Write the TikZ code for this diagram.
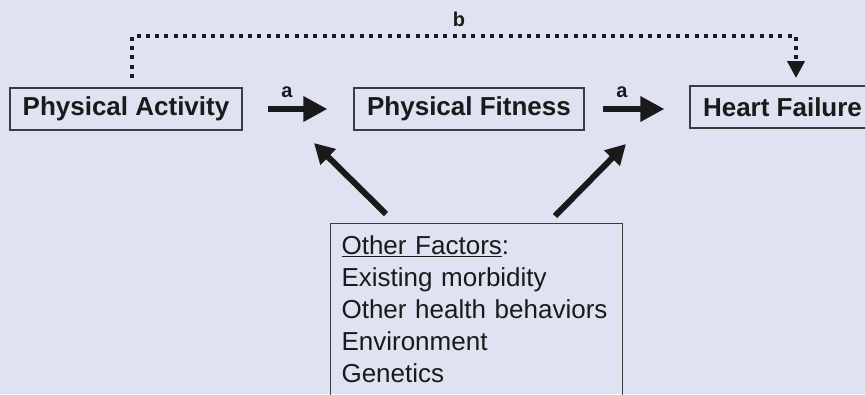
\documentclass[tikz,border=0pt]{standalone}
\usepackage{fontspec}
\setmainfont{Liberation Sans}
\usetikzlibrary{arrows.meta}
\definecolor{bgcol}{HTML}{DFE3F1}
\definecolor{ink}{HTML}{1A1A1A}
\begin{document}
\begin{tikzpicture}[x=1pt,y=-1pt,
  box/.style={draw=ink!85, line width=1.1pt, minimum height=42pt, inner sep=0pt,
    font=\bfseries\fontsize{26}{30}\selectfont, text=ink},
  lab/.style={font=\bfseries\fontsize{20}{22}\selectfont, text=ink, inner sep=0pt},
  bigarrow/.style={draw=ink, line width=6pt, -{Triangle[length=24pt,width=24pt]}},
  diagarrow/.style={draw=ink, line width=6pt, -{Triangle[length=20pt,width=21pt]}},
  dotarrow/.style={draw=ink, line width=4pt, dash pattern=on 4pt off 5.3pt,
    -{Triangle[length=17pt,width=17pt]}}]
\useasboundingbox (0,0) rectangle (865,394);
\clip (0,0) rectangle (865,394);
\fill[bgcol] (0,0) rectangle (865,394);

\node[box, minimum width=232pt] (pa) at (126,109) {Physical Activity};
\node[box, minimum width=230pt] (pf) at (469,109) {Physical Fitness};
\node[box, minimum width=185pt] (hf) at (782.5,107) {Heart Failure};
\node[draw=ink!85, line width=1.1pt, anchor=north west, align=left,
      inner xsep=11pt, inner ysep=12pt, text width=270pt,
      font=\fontsize{26}{32}\selectfont, text=ink] (of) at (330,223)
  {\underline{Other Factors}:\\Existing morbidity\\Other health behaviors\\Environment\\Genetics\rule[-30pt]{0pt}{30pt}};

% a arrows
\draw[bigarrow, shorten <=25pt, shorten >=26pt] (pa.east) -- (pa.east -| pf.west);
\draw[bigarrow, shorten <=18pt, shorten >=25pt] (pf.east) -- (pf.east -| hf.west);
\node[lab] (a1) at (287,92) {a};
\node[lab] (a2) at (622,92) {a};

% dotted b
\coordinate (bstart) at (132,78);
\coordinate (bend) at (796,78);
\draw[dotarrow] (bstart) |- (796,36) -- (bend);
\node[lab] (b) at (459,19) {b};

% diagonals
\coordinate (l1) at (386,214);
\coordinate (l2) at (314,143);
\coordinate (r1) at (555,216);
\coordinate (r2) at (626,144);
\draw[diagarrow] (l1) -- (l2);
\draw[diagarrow] (r1) -- (r2);
\end{tikzpicture}
\end{document}
